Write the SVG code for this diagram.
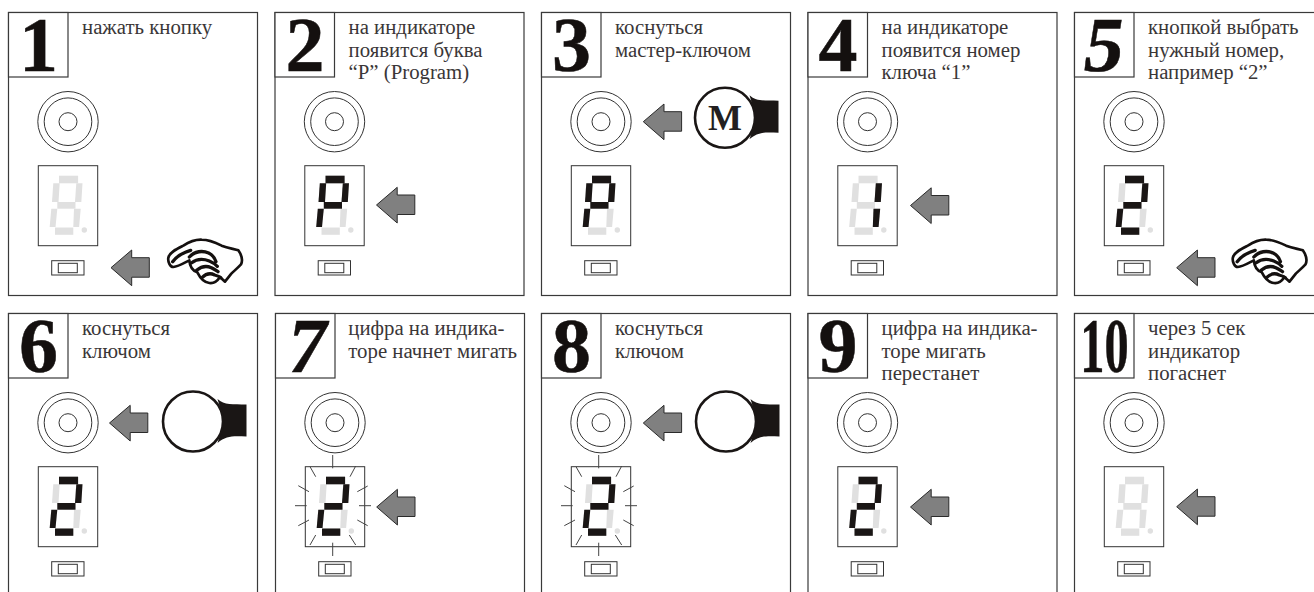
<svg xmlns="http://www.w3.org/2000/svg" xmlns:xlink="http://www.w3.org/1999/xlink" width="1314" height="592" viewBox="0 0 1314 592">
<style>
text{font-family:"Liberation Serif","Times New Roman",serif;fill:#231f20}
.lbl{font-size:20.8px;fill:#3a3637}
.num{font-size:78px;font-weight:bold;text-anchor:middle;fill:#14100f;stroke:#14100f;stroke-width:.5}
.frame{fill:#fff;stroke:#3a3a3a;stroke-width:1.2}
.ln{fill:none;stroke:#333;stroke-width:1}
.ray{fill:none;stroke:#444;stroke-width:1}
.off{fill:#e0e0e0}
.on{fill:#1a1615}
.arrow{fill:#808080;stroke:#2a2a2a;stroke-width:1}
.hand{fill:#fff;stroke:#14100f;stroke-width:8;stroke-linejoin:round;stroke-linecap:round}
.hl{fill:none;stroke:#14100f;stroke-width:10;stroke-linecap:round;stroke-linejoin:round}
</style>
<defs>
<polygon id="a" points="50.5,163.2 69.6,163.2 69.6,170.8 50.5,170.8"/>
<polygon id="f" points="44.8,170.8 51.2,170.8 50,189.5 43.5,189.5"/>
<polygon id="b" points="67.8,170.8 74,170.8 72.8,189.5 66.5,189.5"/>
<polygon id="g" points="48.8,189.5 67,189.5 67,196.2 48.8,196.2"/>
<polygon id="e" points="42.8,196.2 48.8,196.2 47,214.5 41.2,214.5"/>
<polygon id="c" points="65.5,196.2 72.2,196.2 70.6,214.5 64.8,214.5"/>
<polygon id="d" points="46.5,215 64.8,215 64.8,222.3 46.5,222.3"/>
<g id="base">
<rect class="frame" width="249" height="283"/>
<rect class="frame" width="59.5" height="64.5"/>
<circle class="ln" cx="59.5" cy="109.2" r="30.2"/>
<circle class="ln" cx="59.5" cy="109.2" r="23.8"/>
<circle class="ln" cx="59.5" cy="109.2" r="9"/>
<rect class="ln" x="29.8" y="153.2" width="59.4" height="80"/>
<rect class="ln" x="43.2" y="248.2" width="32.3" height="14.3"/>
<rect class="ln" x="49.8" y="250.8" width="19" height="9.4"/>
<g class="off"><use href="#a"/><use href="#b"/><use href="#c"/><use href="#d"/><use href="#e"/><use href="#f"/><use href="#g"/><circle cx="75.8" cy="217.5" r="2.7"/></g>
</g>
<g id="dP" class="on"><use href="#a"/><use href="#b"/><use href="#f"/><use href="#g"/><use href="#e"/></g>
<g id="d1" class="on"><use href="#b"/><use href="#c"/></g>
<g id="d2" class="on"><use href="#a"/><use href="#b"/><use href="#g"/><use href="#e"/><use href="#d"/></g>
<g id="rays" class="ray">
<path d="M57.2 141.5V154.8M34.5 153.2L40.2 163.2M80.2 152.5L74.5 163.2M22.8 172.2L33.5 178.2M92.2 172.5L81.8 178.2M19.5 192.2H31.2M83.5 192.2H95.5M22.8 212.2L33.5 206.5M92.2 212.2L81.8 206.5M34.5 231.5L40.2 221.5M80.2 231.5L73.8 221.5M57.2 229.2V242.5"/>
</g>
<g id="hand" transform="translate(151.5,222.5) scale(.3333)">
<path class="hand" d="M25 68C28 52 50 42 70 32C85 22 100 13 125 14C145 14 165 22 185 32C205 40 225 42 235 46C246 62 248 78 243 88C232 100 222 108 214 116L195 140L180 126C172 138 160 146 148 144C132 142 122 132 112 112C100 108 90 100 88 76C72 84 55 95 40 96C30 96 23 80 25 68Z"/>
<path class="hl" d="M92 46C72 52 50 64 38 80M88 66C104 48 128 46 146 54C158 60 164 68 168 80M94 84C112 70 132 72 148 78C158 82 166 88 172 94M110 106C124 94 140 92 154 98C162 102 170 106 174 110M126 128C138 116 152 114 164 120C172 122 178 124 182 128"/>
</g>
<g id="key">
<path class="on" d="M209 85.5C216 92 224 90.5 238 91V123C224 122.5 218 122 209 129.5C214 116 214 100 209 85.5Z"/>
<circle cx="184.5" cy="108" r="30" fill="#fff" stroke="#1a1615" stroke-width="2.6"/>
</g>
</defs>

<g id="step-1" transform="translate(8.5,12.5)"><use href="#base"/><text class="num" x="30" y="58">1</text><text class="lbl" x="73.5" y="21">нажать кнопку</text><use href="#hand"/></g>

<g id="step-2" transform="translate(275,12.5)"><use href="#base"/><text class="num" x="30" y="58">2</text><text class="lbl" x="73.5" y="21">на индикаторе</text><text class="lbl" x="73.5" y="44">появится буква</text><text class="lbl" x="73.5" y="66">“P” (Program)</text><use href="#dP"/></g>

<g id="step-3" transform="translate(541.5,12.5)"><use href="#base"/><text class="num" x="30" y="58">3</text><text class="lbl" x="73.5" y="21">коснуться</text><text class="lbl" x="73.5" y="44">мастер-ключом</text><use href="#dP"/><use href="#key" transform="translate(-1,-2.7)"/><text x="183.5" y="117.5" font-size="36" font-weight="bold" text-anchor="middle">M</text></g>

<g id="step-4" transform="translate(808,12.5)"><use href="#base"/><text class="num" x="30" y="58">4</text><text class="lbl" x="73.5" y="21">на индикаторе</text><text class="lbl" x="73.5" y="44">появится номер</text><text class="lbl" x="73.5" y="66">ключа “1”</text><use href="#d1"/></g>

<g id="step-5" transform="translate(1074.5,12.5)"><use href="#base"/><text class="num" transform="translate(26,58) skewX(-9)">5</text><text class="lbl" x="73.5" y="21">кнопкой выбрать</text><text class="lbl" x="73.5" y="44">нужный номер,</text><text class="lbl" x="73.5" y="66">например “2”</text><use href="#d2"/><use href="#hand" transform="translate(-1.5,0)"/></g>

<g id="step-6" transform="translate(8.5,313.5)"><use href="#base"/><text class="num" x="30" y="58">6</text><text class="lbl" x="73.5" y="21">коснуться</text><text class="lbl" x="73.5" y="44">ключом</text><use href="#d2"/><use href="#key"/></g>

<g id="step-7" transform="translate(275.5,313.5)"><use href="#base"/><text class="num" transform="translate(28,58) skewX(-9)">7</text><text class="lbl" x="72.8" y="21">цифра на индика-</text><text class="lbl" x="72.8" y="44">торе начнет мигать</text><use href="#d2"/><use href="#rays"/></g>

<g id="step-8" transform="translate(541.5,313.5)"><use href="#base"/><text class="num" x="30" y="58">8</text><text class="lbl" x="73.5" y="21">коснуться</text><text class="lbl" x="73.5" y="44">ключом</text><use href="#d2"/><use href="#rays"/><use href="#key"/></g>

<g id="step-9" transform="translate(808,313.5)"><use href="#base"/><text class="num" x="30" y="58">9</text><text class="lbl" x="73.5" y="21">цифра на индика-</text><text class="lbl" x="73.5" y="44">торе мигать</text><text class="lbl" x="73.5" y="66">перестанет</text><use href="#d2"/></g>

<g id="step-10" transform="translate(1074.5,313.5)"><use href="#base"/><text class="num" transform="translate(30,58) scale(.62,1)">10</text><text class="lbl" x="73.5" y="21">через 5 сек</text><text class="lbl" x="73.5" y="44">индикатор</text><text class="lbl" x="73.5" y="66">погаснет</text></g>

<g id="connectors">
<defs><polygon id="arr" class="arrow" points="0,0 20.7,-17.7 20.7,-10 38.3,-10 38.3,9.5 20.7,9.5 20.7,18"/></defs>
<use href="#arr" x="111" y="267.7"/>
<use href="#arr" x="376.5" y="205"/>
<use href="#arr" x="643.3" y="121.7"/>
<use href="#arr" x="910.5" y="205.5"/>
<use href="#arr" x="1176.7" y="267.7"/>
<use href="#arr" x="109.5" y="423"/>
<use href="#arr" x="376.7" y="507"/>
<use href="#arr" x="643.3" y="423"/>
<use href="#arr" x="910.5" y="507"/>
<use href="#arr" x="1176.7" y="506.7"/>
</g>
</svg>
